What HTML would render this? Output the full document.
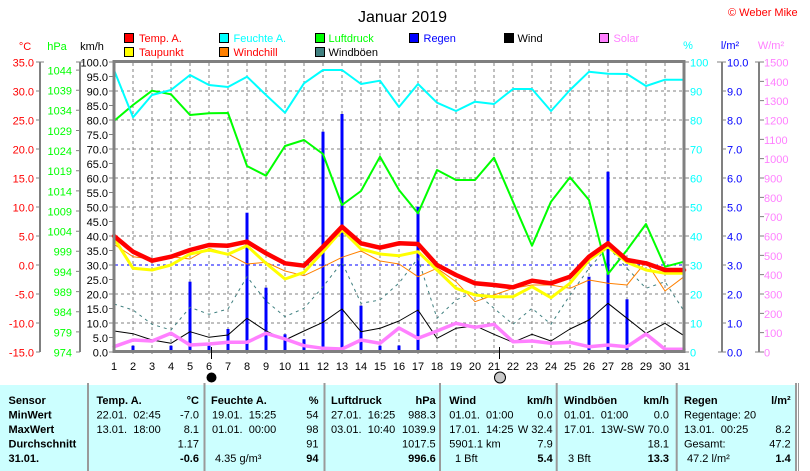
<!DOCTYPE html>
<html><head><meta charset="utf-8"><style>
html,body{margin:0;padding:0;background:#fff;overflow:hidden}
svg{display:block}
text{font-family:"Liberation Sans",Arial,sans-serif;font-size:11px}
.b{font-weight:bold}
</style></head><body>
<svg width="810" height="471" viewBox="0 0 810 471" xmlns="http://www.w3.org/2000/svg">
<rect x="0" y="0" width="810" height="471" fill="#fff"/>
<!-- title -->
<text x="402.5" y="22" text-anchor="middle" style="font-size:16px">Januar 2019</text>
<text x="728" y="16" fill="#ff0000">© Weber Mike</text>

<!-- legend -->
<g stroke="#000" stroke-width="1">
<rect x="124.5" y="33.5" width="9" height="9" fill="#ff0000"/>
<rect x="219.5" y="33.5" width="9" height="9" fill="#00ffff"/>
<rect x="315.5" y="33.5" width="9" height="9" fill="#00ff00"/>
<rect x="409.5" y="33.5" width="9" height="9" fill="#0000ff"/>
<rect x="504.5" y="33.5" width="9" height="9" fill="#000000"/>
<rect x="599.5" y="33.5" width="9" height="9" fill="#ff80ff"/>
<rect x="124.5" y="47.5" width="9" height="9" fill="#ffff00"/>
<rect x="219.5" y="47.5" width="9" height="9" fill="#ff8000"/>
<rect x="315.5" y="47.5" width="9" height="9" fill="#408080"/>
</g>
<text x="139" y="42" fill="#ff0000">Temp. A.</text>
<text x="233.5" y="42" fill="#00ffff">Feuchte A.</text>
<text x="328.5" y="42" fill="#00ff00">Luftdruck</text>
<text x="423.5" y="42" fill="#0000ff">Regen</text>
<text x="517.5" y="42" fill="#000">Wind</text>
<text x="613.5" y="42" fill="#ff80ff">Solar</text>
<text x="139" y="56" fill="#ff0000">Taupunkt</text>
<text x="233.5" y="56" fill="#ff0000">Windchill</text>
<text x="328.5" y="56" fill="#000">Windböen</text>

<!-- unit labels -->
<text x="25" y="50" text-anchor="middle" fill="#ff0000">°C</text>
<text x="57" y="50" text-anchor="middle" fill="#00ff00">hPa</text>
<text x="92" y="50" text-anchor="middle" fill="#000">km/h</text>
<text x="688" y="49" text-anchor="middle" fill="#00ffff">%</text>
<text x="730" y="49" text-anchor="middle" fill="#0000ff">l/m²</text>
<text x="771" y="49" text-anchor="middle" fill="#ff80ff">W/m²</text>

<!-- axis lines -->
<g stroke="#808080" stroke-width="2" fill="none">
<path d="M40 62V352M80 62V352M722 62V352M759 62V352"/>
</g>
<g stroke="#808080" stroke-width="1" fill="none">
<!-- °C ticks -->
<path d="M36 62H44M36 91H40M36 120H40M36 149H40M36 178H40M36 207H40M36 236H40M36 265H40M36 294H40M36 323H40M36 352H40"/>
<!-- hPa ticks -->
<path d="M76 62H84M76 70.1H80M76 90.2H80M76 110.3H80M76 130.5H80M76 150.6H80M76 170.7H80M76 190.9H80M76 211H80M76 231.2H80M76 251.3H80M76 271.4H80M76 291.6H80M76 311.7H80M76 331.9H80M76 352H80"/>
<!-- km/h ticks -->
<path d="M109 62H114M109 76.5H114M109 91H114M109 105.5H114M109 120H114M109 134.5H114M109 149H114M109 163.5H114M109 178H114M109 192.5H114M109 207H114M109 221.5H114M109 236H114M109 250.5H114M109 265H114M109 279.5H114M109 294H114M109 308.5H114M109 323H114M109 337.5H114M109 352H114"/>
<!-- % ticks -->
<path d="M684 62H689M684 91H689M684 120H689M684 149H689M684 178H689M684 207H689M684 236H689M684 265H689M684 294H689M684 323H689M684 352H689"/>
<!-- l/m2 ticks -->
<path d="M717 62H726M722 91H726M722 120H726M722 149H726M722 178H726M722 207H726M722 236H726M722 265H726M722 294H726M722 323H726M718 352H726"/>
<!-- W/m2 ticks -->
<path d="M755 62H764M759 81.33H764M759 100.67H764M759 120H764M759 139.33H764M759 158.67H764M759 178H764M759 197.33H764M759 216.67H764M759 236H764M759 255.33H764M759 274.67H764M759 294H764M759 313.33H764M759 332.67H764M755 352H764"/>
</g>

<!-- °C labels -->
<g fill="#ff0000" text-anchor="end">
<text x="34" y="66.5">35.0</text><text x="34" y="95.5">30.0</text><text x="34" y="124.5">25.0</text><text x="34" y="153.5">20.0</text><text x="34" y="182.5">15.0</text><text x="34" y="211.5">10.0</text><text x="34" y="240.5">5.0</text><text x="34" y="269.5">0.0</text><text x="34" y="298.5">-5.0</text><text x="34" y="327.5">-10.0</text><text x="34" y="356.5">-15.0</text>
</g>
<!-- hPa labels -->
<g fill="#00ff00" text-anchor="end">
<text x="72" y="74.5">1044</text><text x="72" y="94.6">1039</text><text x="72" y="114.7">1034</text><text x="72" y="134.9">1029</text><text x="72" y="155">1024</text><text x="72" y="175.1">1019</text><text x="72" y="195.3">1014</text><text x="72" y="215.4">1009</text><text x="72" y="235.6">1004</text><text x="72" y="255.7">999</text><text x="72" y="275.8">994</text><text x="72" y="296">989</text><text x="72" y="316.1">984</text><text x="72" y="336.3">979</text><text x="72" y="356.4">974</text>
</g>
<!-- km/h labels -->
<g fill="#000" text-anchor="end">
<text x="108" y="66.5">100.0</text><text x="108" y="81">95.0</text><text x="108" y="95.5">90.0</text><text x="108" y="110">85.0</text><text x="108" y="124.5">80.0</text><text x="108" y="139">75.0</text><text x="108" y="153.5">70.0</text><text x="108" y="168">65.0</text><text x="108" y="182.5">60.0</text><text x="108" y="197">55.0</text><text x="108" y="211.5">50.0</text><text x="108" y="226">45.0</text><text x="108" y="240.5">40.0</text><text x="108" y="255">35.0</text><text x="108" y="269.5">30.0</text><text x="108" y="284">25.0</text><text x="108" y="298.5">20.0</text><text x="108" y="313">15.0</text><text x="108" y="327.5">10.0</text><text x="108" y="342">5.0</text><text x="108" y="356.5">0.0</text>
</g>
<!-- % labels -->
<g fill="#00ffff">
<text x="690" y="66.5">100</text><text x="690" y="95.5">90</text><text x="690" y="124.5">80</text><text x="690" y="153.5">70</text><text x="690" y="182.5">60</text><text x="690" y="211.5">50</text><text x="690" y="240.5">40</text><text x="690" y="269.5">30</text><text x="690" y="298.5">20</text><text x="690" y="327.5">10</text><text x="690" y="356.5">0</text>
</g>
<!-- l/m2 labels -->
<g fill="#0000ff">
<text x="727" y="66.5">10.0</text><text x="727" y="95.5">9.0</text><text x="727" y="124.5">8.0</text><text x="727" y="153.5">7.0</text><text x="727" y="182.5">6.0</text><text x="727" y="211.5">5.0</text><text x="727" y="240.5">4.0</text><text x="727" y="269.5">3.0</text><text x="727" y="298.5">2.0</text><text x="727" y="327.5">1.0</text><text x="727" y="356.5">0.0</text>
</g>
<!-- W/m2 labels -->
<g fill="#ff80ff">
<text x="764" y="66.5">1500</text><text x="764" y="85.8">1400</text><text x="764" y="105.2">1300</text><text x="764" y="124.5">1200</text><text x="764" y="143.8">1100</text><text x="764" y="163.2">1000</text><text x="764" y="182.5">900</text><text x="764" y="201.8">800</text><text x="764" y="221.2">700</text><text x="764" y="240.5">600</text><text x="764" y="259.8">500</text><text x="764" y="279.2">400</text><text x="764" y="298.5">300</text><text x="764" y="317.8">200</text><text x="764" y="337.2">100</text><text x="764" y="356.5">0</text>
</g>

<!-- grid -->
<g stroke="#808080" stroke-width="1" stroke-dasharray="3,3" fill="none">
<path d="M133 63V355M152 63V355M171 63V355M190 63V355M209 63V355M228 63V355M247 63V355M266 63V355M285 63V355M304 63V355M323 63V355M342 63V355M361 63V355M380 63V355M399 63V355M418 63V355M437 63V355M456 63V355M475 63V355M494 63V355M513 63V355M532 63V355M551 63V355M570 63V355M589 63V355M608 63V355M627 63V355M646 63V355M665 63V355"/>
<path d="M115 91H683M115 120H683M115 149H683M115 178H683M115 207H683M115 236H683M115 294H683M115 323H683"/>
</g>
<path d="M115 265H683" stroke="#0000ff" stroke-width="1" stroke-dasharray="3,3" fill="none"/>

<!-- rain bars -->
<g fill="#0000ff">
<rect x="112.5" y="335" width="3" height="17"/>
<rect x="131.5" y="345.7" width="3" height="6.3"/>
<rect x="169.5" y="345.7" width="3" height="6.3"/>
<rect x="188.5" y="281.7" width="3" height="70.3"/>
<rect x="207.5" y="345.7" width="3" height="6.3"/>
<rect x="226.5" y="329" width="3" height="23"/>
<rect x="245.5" y="212.7" width="3" height="139.3"/>
<rect x="264.5" y="287.7" width="3" height="64.3"/>
<rect x="283.5" y="334.3" width="3" height="17.7"/>
<rect x="302.5" y="339.3" width="3" height="12.7"/>
<rect x="321.5" y="131.7" width="3" height="220.3"/>
<rect x="340.5" y="114" width="3" height="238"/>
<rect x="359.5" y="305.7" width="3" height="46.3"/>
<rect x="378.5" y="345.7" width="3" height="6.3"/>
<rect x="397.5" y="345.5" width="3" height="6.5"/>
<rect x="416.5" y="206.7" width="3" height="145.3"/>
<rect x="587.5" y="276.7" width="3" height="75.3"/>
<rect x="606.5" y="171.7" width="3" height="180.3"/>
<rect x="625.5" y="299.3" width="3" height="52.7"/>
<rect x="682.5" y="310" width="2" height="42"/>
<rect x="151" y="350" width="2" height="2"/>
<rect x="436" y="350" width="2" height="2"/>
<rect x="455" y="350" width="2" height="2"/>
<rect x="474" y="350" width="2" height="2"/>
<rect x="512" y="350" width="2" height="2"/>
<rect x="531" y="350" width="2" height="2"/>
<rect x="550" y="350" width="2" height="2"/>
<rect x="569" y="350" width="2" height="2"/>
</g>

<!-- series -->
<g fill="none" stroke-linejoin="round" stroke-linecap="round">
<polyline stroke="#00ff00" stroke-width="2" points="114,121 133,105 152,90.7 171,94.3 190,115 209,113.3 228,113 247,166 266,175.7 285,146 304,140 323,154 342,205 361,191 380,156.7 399,190 418,213.3 437,170 456,180 475,180 494,157.7 513,201.7 532,245.7 551,201.7 570,177.3 589,200 608,274 627,250 646,224 665,266.7 684,261.7"/>
<polyline stroke="#00ffff" stroke-width="2" points="114,70 133,117.3 152,95 171,90 190,75 209,85 228,87 247,76.7 266,95 285,112.7 304,83.3 323,70 342,70 361,84 380,80.7 399,107 418,84 437,102.7 456,111 475,101.7 494,104 513,89 532,89 551,111 570,90 589,71.7 608,73.7 627,74 646,86 665,79.7 684,79.7"/>
<polyline stroke="#408080" stroke-width="1" stroke-dasharray="3,4" stroke-linecap="butt" points="114,304 133,310 152,324.3 171,330 190,307.3 209,314.3 228,309 247,276.7 266,301 285,316.7 304,308.3 323,286.7 342,262.3 361,303.3 380,300 399,283 418,258.3 437,318.3 456,300 475,291.7 494,308.3 513,324.3 532,308.3 551,324.3 570,295 589,268.3 608,246.7 627,268.3 646,288.3 665,281.7 684,311"/>
<polyline stroke="#000000" stroke-width="1" points="114,331 133,333.7 152,340 171,343.3 190,331.7 209,337.3 228,335 247,318.3 266,331 285,340 304,331 323,322.3 342,309 361,331.7 380,328.3 399,321 418,310 437,338.3 456,328.3 475,325.7 494,334.3 513,342.3 532,334.3 551,341 570,329 589,320 608,303.3 627,318.3 646,333.3 665,323.3 684,335.7"/>
<polyline stroke="#ff80ff" stroke-width="3.5" points="114,346.7 133,340 152,341 171,333.3 190,345 209,344 228,342.3 247,342.3 266,333.3 285,339 304,345.7 323,348.3 342,349 361,340 380,343.3 399,328 418,338.3 437,331 456,323.3 475,327.3 494,324.3 513,341.7 532,341 551,343.3 570,342.3 589,346.7 608,345 627,346.7 646,334 665,349.3 684,349.3"/>
<polyline stroke="#ff8000" stroke-width="1" points="114,244.3 133,256.7 152,259 171,256.7 190,259 209,248.3 228,254 247,264 266,262.3 285,271 304,275.7 323,266.7 342,257.3 361,251 380,261 399,264 418,276.7 437,268.3 456,281.7 475,301.7 494,295 513,288.3 532,285 551,285 570,288.3 589,280 608,283.3 627,285 646,261.7 665,291 684,276.7"/>
<polyline stroke="#ffff00" stroke-width="3" points="114,238.3 133,268.3 152,270 171,265 190,254 209,250 228,254.3 247,245.7 266,263.3 285,279 304,272.3 323,251.7 342,230 361,249 380,254 399,255.7 418,251.7 437,270 456,288.3 475,295 494,296.7 513,296.7 532,286.7 551,297.7 570,283.3 589,260 608,246.7 627,262.3 646,270 665,273.3 684,273.3"/>
<polyline stroke="#ff0000" stroke-width="4.5" points="114,236 133,251.7 152,260.7 171,256.7 190,250 209,245 228,245.7 247,241.7 266,253.3 285,263.3 304,265.7 323,246.7 342,226.7 361,243.3 380,247.7 399,243.3 418,244 437,265 456,275 475,283.3 494,285 513,287.3 532,280.7 551,283.3 570,276.7 589,256.7 608,243.3 627,260 646,263.3 665,270 684,270"/>
</g>

<!-- frame -->
<rect x="114" y="61.5" width="570" height="290" fill="none" stroke="#808080" stroke-width="3"/>
<path d="M113 352H685" stroke="#808080" stroke-width="2"/>

<!-- x labels -->
<g text-anchor="middle" fill="#000">
<text x="114" y="370">1</text><text x="133" y="370">2</text><text x="152" y="370">3</text><text x="171" y="370">4</text><text x="190" y="370">5</text><text x="209" y="370">6</text><text x="228" y="370">7</text><text x="247" y="370">8</text><text x="266" y="370">9</text><text x="285" y="370">10</text><text x="304" y="370">11</text><text x="323" y="370">12</text><text x="342" y="370">13</text><text x="361" y="370">14</text><text x="380" y="370">15</text><text x="399" y="370">16</text><text x="418" y="370">17</text><text x="437" y="370">18</text><text x="456" y="370">19</text><text x="475" y="370">20</text><text x="494" y="370">21</text><text x="513" y="370">22</text><text x="532" y="370">23</text><text x="551" y="370">24</text><text x="570" y="370">25</text><text x="589" y="370">26</text><text x="608" y="370">27</text><text x="627" y="370">28</text><text x="646" y="370">29</text><text x="665" y="370">30</text><text x="684" y="370">31</text>
</g>
<!-- moon markers -->
<path d="M211.5 347V359M499.5 347V359" stroke="#000" stroke-width="1"/>
<circle cx="211.5" cy="377.5" r="5" fill="#000"/>
<circle cx="500" cy="377.5" r="5.5" fill="#c8c8c8" stroke="#000" stroke-width="1"/>

<!-- table -->
<rect x="0" y="385" width="795" height="86" fill="#ccffff"/>
<g stroke="#9a9a9a" stroke-width="2">
<path d="M88 383V471M204.5 383V471M324.5 383V471M440 383V471M556.7 383V471M676.7 383V471M796 383V471"/>
</g>
<path d="M798.5 383V471" stroke="#9a9a9a" stroke-width="1"/>

<g fill="#000">
<text class="b" x="8.5" y="404">Sensor</text>
<text class="b" x="8.5" y="418.5">MinWert</text>
<text class="b" x="8.5" y="433">MaxWert</text>
<text class="b" x="8.5" y="447.5">Durchschnitt</text>
<text class="b" x="8.5" y="462">31.01.</text>

<text class="b" x="96.5" y="404">Temp. A.</text>
<text class="b" x="199" y="404" text-anchor="end">°C</text>
<text x="96.5" y="418.5" xml:space="preserve">22.01.  02:45</text>
<text x="199" y="418.5" text-anchor="end">-7.0</text>
<text x="96.5" y="433" xml:space="preserve">13.01.  18:00</text>
<text x="199" y="433" text-anchor="end">8.1</text>
<text x="199" y="447.5" text-anchor="end">1.17</text>
<text class="b" x="199" y="462" text-anchor="end">-0.6</text>

<text class="b" x="211" y="404">Feuchte A.</text>
<text class="b" x="318.5" y="404" text-anchor="end">%</text>
<text x="212" y="418.5" xml:space="preserve">19.01.  15:25</text>
<text x="318.5" y="418.5" text-anchor="end">54</text>
<text x="212" y="433" xml:space="preserve">01.01.  00:00</text>
<text x="318.5" y="433" text-anchor="end">98</text>
<text x="318.5" y="447.5" text-anchor="end">91</text>
<text x="215" y="462">4.35 g/m³</text>
<text class="b" x="318.5" y="462" text-anchor="end">94</text>

<text class="b" x="331" y="404">Luftdruck</text>
<text class="b" x="435.7" y="404" text-anchor="end">hPa</text>
<text x="331" y="418.5" xml:space="preserve">27.01.  16:25</text>
<text x="435.7" y="418.5" text-anchor="end">988.3</text>
<text x="331" y="433" xml:space="preserve">03.01.  10:40</text>
<text x="435.7" y="433" text-anchor="end">1039.9</text>
<text x="435.7" y="447.5" text-anchor="end">1017.5</text>
<text class="b" x="435.7" y="462" text-anchor="end">996.6</text>

<text class="b" x="449.3" y="404">Wind</text>
<text class="b" x="552.7" y="404" text-anchor="end">km/h</text>
<text x="449.3" y="418.5" xml:space="preserve">01.01.  01:00</text>
<text x="552.7" y="418.5" text-anchor="end">0.0</text>
<text x="449.3" y="433" xml:space="preserve">17.01.  14:25</text>
<text x="552.7" y="433" text-anchor="end">W 32.4</text>
<text x="449.3" y="447.5">5901.1 km</text>
<text x="552.7" y="447.5" text-anchor="end">7.9</text>
<text x="455" y="462">1 Bft</text>
<text class="b" x="552.7" y="462" text-anchor="end">5.4</text>

<text class="b" x="564" y="404">Windböen</text>
<text class="b" x="669" y="404" text-anchor="end">km/h</text>
<text x="564" y="418.5" xml:space="preserve">01.01.  01:00</text>
<text x="669" y="418.5" text-anchor="end">0.0</text>
<text x="564" y="433" xml:space="preserve">17.01.  13</text>
<text x="669" y="433" text-anchor="end">W-SW 70.0</text>
<text x="669" y="447.5" text-anchor="end">18.1</text>
<text x="568" y="462">3 Bft</text>
<text class="b" x="669" y="462" text-anchor="end">13.3</text>

<text class="b" x="684" y="404">Regen</text>
<text class="b" x="790.7" y="404" text-anchor="end">l/m²</text>
<text x="684" y="418.5">Regentage: 20</text>
<text x="684" y="433" xml:space="preserve">13.01.  00:25</text>
<text x="790.7" y="433" text-anchor="end">8.2</text>
<text x="684" y="447.5">Gesamt:</text>
<text x="790.7" y="447.5" text-anchor="end">47.2</text>
<text x="687" y="462">47.2 l/m²</text>
<text class="b" x="790.7" y="462" text-anchor="end">1.4</text>
</g>
</svg>
</body></html>
